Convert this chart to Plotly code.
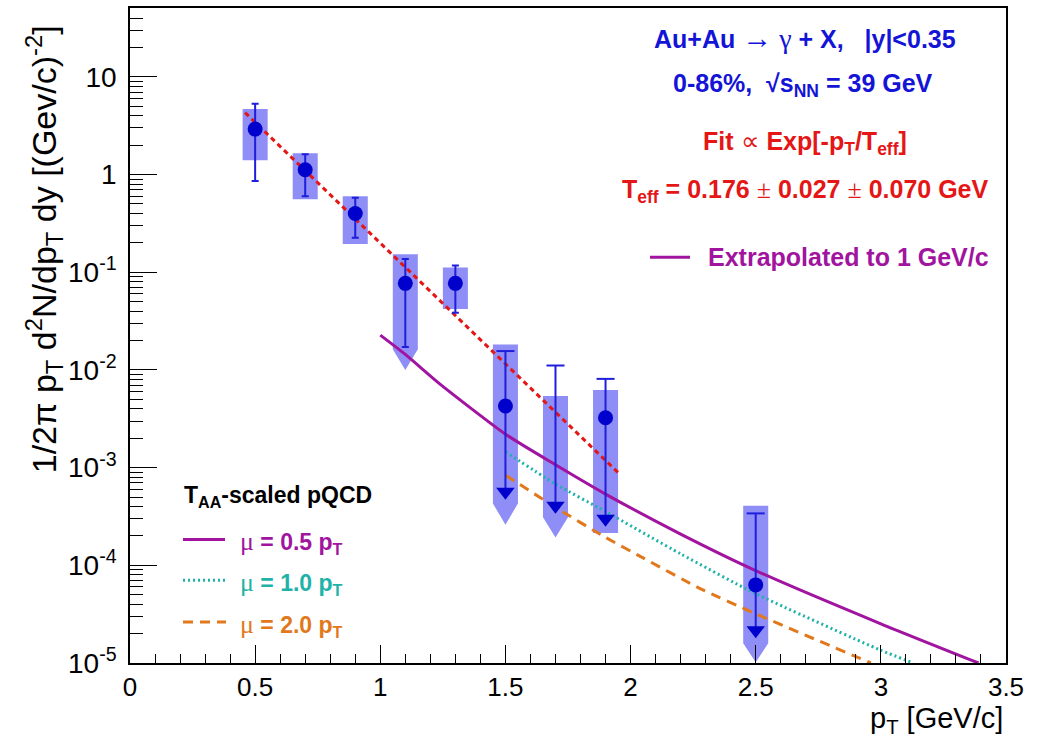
import plotly.graph_objects as go

# ---- measured direct-photon yields (Au+Au, 39 GeV) ----
pt_meas = [0.5, 0.7, 0.9, 1.1, 1.3]
yield_meas = [2.92, 1.12, 0.40, 0.077, 0.077]
stat_hi = [5.3, 1.61, 0.58, 0.137, 0.117]
stat_lo = [0.86, 0.60, 0.225, 0.0172, 0.0385]

# points that also carry an upper-limit arrow
pt_ul = [1.5, 1.7, 1.9, 2.5]
yield_ul = [0.00428, None, 0.00324, 6.3e-5]
ul_top = [0.0156, 0.0111, 0.0081, 3.4e-4]
ul_arrow = [5.66e-4, 4.07e-4, 3.0e-4, 2.16e-5]

# systematic boxes (upper edge, lower edge, arrow tip if any)
pt_sys = [0.5, 0.7, 0.9, 1.1, 1.3, 1.5, 1.7, 1.9, 2.5]
sys_hi = [4.7, 1.65, 0.60, 0.153, 0.112, 0.0182, 0.0054, 0.00622, 4.07e-4]
sys_lo = [1.40, 0.56, 0.195, 0.0163, 0.042, 4.3e-4, 3.1e-4, 2.14e-4, 1.59e-5]
sys_tip = [None, None, None, 0.00996, None, 2.6e-4, 1.93e-4, None, 1.02e-5]

# exponential fit (straight in log scale), end points
fit_x = [0.46, 1.95]
fit_y = [4.3, 8.9e-4]

# T_AA-scaled pQCD curves
mu05_x = [1.0, 1.1, 1.24, 1.5, 1.7, 1.9, 2.2, 2.5, 3.0, 3.39]
mu05_y = [0.0227, 0.0144, 7.11e-3, 2.2e-3, 1.07e-3, 5.36e-4, 2.09e-4, 8.83e-5, 2.52e-5, 1.0e-5]
mu10_x = [1.5, 1.7, 1.9, 2.2, 2.5, 3.0, 3.13]
mu10_y = [1.45e-3, 6.8e-4, 3.55e-4, 1.31e-4, 5.12e-5, 1.35e-5, 1.0e-5]
mu20_x = [1.5, 1.7, 1.9, 2.05, 2.28, 2.5, 2.96]
mu20_y = [8.37e-4, 3.92e-4, 1.93e-4, 1.19e-4, 5.75e-5, 3.19e-5, 1.0e-5]

# axis ticks
x_ticks = [0, 0.5, 1, 1.5, 2, 2.5, 3, 3.5]
x_ticktext = ["0", "0.5", "1", "1.5", "2", "2.5", "3", "3.5"]
y_ticks = [1e-5, 1e-4, 1e-3, 1e-2, 1e-1, 1, 10]
y_ticktext = ["10<sup>-5</sup>", "10<sup>-4</sup>", "10<sup>-3</sup>", "10<sup>-2</sup>",
              "10<sup>-1</sup>", "1", "10"]

BLUE_DARK = "rgb(0,0,205)"
BLUE_LINE = "rgb(30,30,220)"
BOX_FILL = "rgb(142,142,246)"
RED = "rgb(228,22,22)"
PURPLE = "rgb(160,20,160)"
TEAL = "rgb(30,178,168)"
ORANGE = "rgb(226,120,28)"
SANS = "Liberation Sans, Arial, sans-serif"
SERIF = "Liberation Serif, Times New Roman, serif"

BOX_HW = 0.05      # half width of systematic boxes in pT
CAP_HW = 0.036     # half width of upper-limit caps in pT

fig = go.Figure()

# systematic boxes, some with an arrow-shaped bottom
bx, by = [], []
for x, hi, lo, tip in zip(pt_sys, sys_hi, sys_lo, sys_tip):
    if tip is None:
        bx += [x - BOX_HW, x + BOX_HW, x + BOX_HW, x - BOX_HW, x - BOX_HW, None]
        by += [hi, hi, lo, lo, hi, None]
    else:
        bx += [x - BOX_HW, x + BOX_HW, x + BOX_HW, x, x - BOX_HW, x - BOX_HW, None]
        by += [hi, hi, lo, tip, lo, hi, None]
fig.add_trace(go.Scatter(x=bx, y=by, mode="lines", fill="toself", fillcolor=BOX_FILL,
                         line=dict(width=0, color=BOX_FILL), hoverinfo="skip"))

# fit
fig.add_trace(go.Scatter(x=fit_x, y=fit_y, mode="lines",
                         line=dict(color=RED, width=3, dash="5px,4px")))

# pQCD curves
fig.add_trace(go.Scatter(x=mu05_x, y=mu05_y, mode="lines",
                         line=dict(color=PURPLE, width=3, shape="spline", smoothing=0.6)))
fig.add_trace(go.Scatter(x=mu10_x, y=mu10_y, mode="lines",
                         line=dict(color=TEAL, width=3, dash="2px,3px", shape="spline", smoothing=0.6)))
fig.add_trace(go.Scatter(x=mu20_x, y=mu20_y, mode="lines",
                         line=dict(color=ORANGE, width=3, dash="10px,7px", shape="spline", smoothing=0.6)))

# upper-limit error lines with top caps
lx, ly = [], []
for x, top, arr in zip(pt_ul, ul_top, ul_arrow):
    lx += [x, x, None, x - CAP_HW, x + CAP_HW, None]
    ly += [top, arr, None, top, top, None]
fig.add_trace(go.Scatter(x=lx, y=ly, mode="lines", line=dict(color=BLUE_LINE, width=2),
                         hoverinfo="skip"))
fig.add_trace(go.Scatter(x=pt_ul, y=ul_arrow, mode="markers",
                         marker=dict(symbol="triangle-down", size=16, color=BLUE_DARK)))

# measured points with statistical errors
fig.add_trace(go.Scatter(
    x=pt_meas, y=yield_meas, mode="markers",
    marker=dict(symbol="circle", size=15, color=BLUE_DARK),
    error_y=dict(type="data", symmetric=False,
                 array=[h - v for h, v in zip(stat_hi, yield_meas)],
                 arrayminus=[v - l for l, v in zip(stat_lo, yield_meas)],
                 color=BLUE_LINE, thickness=2, width=3.5)))
fig.add_trace(go.Scatter(x=pt_ul, y=yield_ul, mode="markers",
                         marker=dict(symbol="circle", size=15, color=BLUE_DARK)))

# ---- layout ----
L, R, T, B = 130, 34, 6, 77
W, H = 1040, 740
PW, PH = W - L - R, H - T - B


def px(xp):
    return (xp - L) / PW


def py(yp):
    return (H - B - yp) / PH


y_minor = [k * 10 ** d for d in range(-5, 1) for k in range(2, 10)] + [20, 30, 40, 50]

fig.update_layout(
    width=W, height=H, margin=dict(l=L, r=R, t=T, b=B),
    paper_bgcolor="white", plot_bgcolor="white", showlegend=False,
    font=dict(family=SANS, color="black"),
    xaxis=dict(range=[0, 3.5], showgrid=False, zeroline=False,
               showline=True, linecolor="black", linewidth=1.5, mirror=True,
               ticks="inside", ticklen=18, tickwidth=1.3, tickcolor="black",
               tickmode="array", tickvals=x_ticks, ticktext=x_ticktext,
               tickfont=dict(size=26, family=SANS), ticklabelstandoff=0,
               minor=dict(ticks="inside", ticklen=9, tickwidth=1.3, tickcolor="black",
                          tickmode="linear", tick0=0, dtick=0.1)),
    yaxis=dict(type="log", range=[-5, 1.705], showgrid=False, zeroline=False,
               showline=True, linecolor="black", linewidth=1.5, mirror=True,
               ticks="inside", ticklen=27, tickwidth=1.3, tickcolor="black",
               tickmode="array", tickvals=y_ticks, ticktext=y_ticktext,
               tickfont=dict(size=28, family=SANS), ticklabelstandoff=6,
               minor=dict(ticks="inside", ticklen=13, tickwidth=1.3, tickcolor="black",
                          tickmode="array", tickvals=y_minor)),
)

ann = []
# axis titles
ann.append(dict(text="p<sub>T</sub> [GeV/c]", xref="paper", yref="paper",
                x=px(1004), y=py(701), xanchor="right", yanchor="top", showarrow=False,
                borderpad=0, font=dict(size=29, family=SANS)))
ann.append(dict(text="1/2π p<sub>T</sub> d<sup>2</sup>N/dp<sub>T</sub> dy [(Gev/c)<sup>-2</sup>]",
                xref="paper", yref="paper", x=px(44), y=py(248), textangle=-90,
                xanchor="center", yanchor="middle", showarrow=False,
                font=dict(size=34, family=SANS)))

sym = lambda s, sz=24: f"<span style='font-family:{SERIF};font-weight:normal;font-size:{sz}px'>{s}</span>"

# top-right labels
ann.append(dict(text=f"<b>Au+Au {sym('→', 30)} {sym('γ', 28)} + X,   |y|&lt;0.35</b>",
                xref="paper", yref="paper", x=px(805), y=py(36), showarrow=False,
                xanchor="center", yanchor="middle", font=dict(size=25, color="rgb(20,20,215)")))
ann.append(dict(text="<b>0-86%,  √s<sub>NN</sub> = 39 GeV</b>",
                xref="paper", yref="paper", x=px(803), y=py(83), showarrow=False,
                xanchor="center", yanchor="middle", font=dict(size=25, color="rgb(20,20,215)")))
ann.append(dict(text=f"<b>Fit {sym('∝', 26)} Exp[-p<sub>T</sub>/T<sub>eff</sub>]</b>",
                xref="paper", yref="paper", x=px(805), y=py(141), showarrow=False,
                xanchor="center", yanchor="middle", font=dict(size=25, color=RED)))
ann.append(dict(text=f"<b>T<sub>eff</sub> = 0.176 {sym('±', 26)} 0.027 {sym('±', 26)} 0.070 GeV</b>",
                xref="paper", yref="paper", x=px(805), y=py(190), showarrow=False,
                xanchor="center", yanchor="middle", font=dict(size=25, color=RED)))
ann.append(dict(text="<b>Extrapolated to 1 GeV/c</b>",
                xref="paper", yref="paper", x=px(706), y=py(256), showarrow=False,
                xanchor="left", yanchor="middle", font=dict(size=25, color=PURPLE)))

# bottom-left legend
ann.append(dict(text="<b>T<sub>AA</sub>-scaled pQCD</b>",
                xref="paper", yref="paper", x=px(182), y=py(496), showarrow=False,
                xanchor="left", yanchor="middle", font=dict(size=23, color="black")))
for label, col, yp in [("0.5", PURPLE, 539), ("1.0", TEAL, 580), ("2.0", ORANGE, 622)]:
    ann.append(dict(text=f"{sym('μ', 26)}<b> = {label} p<sub>T</sub></b>",
                    xref="paper", yref="paper", x=px(238), y=py(yp + 3), showarrow=False,
                    xanchor="left", yanchor="middle", font=dict(size=23, color=col)))
fig.update_layout(annotations=ann)

shapes = [
    dict(type="line", xref="paper", yref="paper", x0=px(650), x1=px(690), y0=py(256), y1=py(256),
         line=dict(color=PURPLE, width=3)),
    dict(type="line", xref="paper", yref="paper", x0=px(183), x1=px(225), y0=py(539), y1=py(539),
         line=dict(color=PURPLE, width=3)),
    dict(type="line", xref="paper", yref="paper", x0=px(183), x1=px(226), y0=py(580), y1=py(580),
         line=dict(color=TEAL, width=3, dash="2px,3px")),
    dict(type="line", xref="paper", yref="paper", x0=px(183), x1=px(226), y0=py(622), y1=py(622),
         line=dict(color=ORANGE, width=3, dash="10px,7px")),
]
fig.update_layout(shapes=shapes)

fig.write_html("out.html")
